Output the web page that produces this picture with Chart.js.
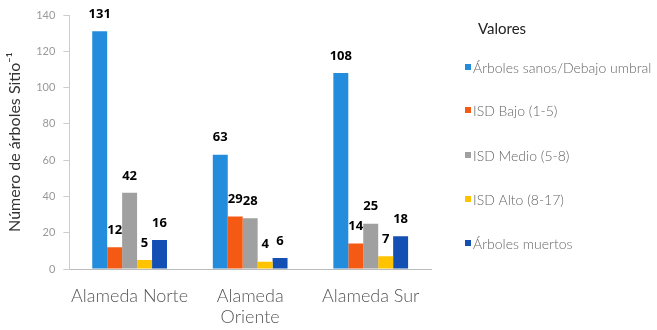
<!DOCTYPE html>
<html><head><meta charset="utf-8">
<script src="https://cdn.jsdelivr.net/npm/chart.js@4"></script>
<style>html,body{margin:0;padding:0;background:#fff;}#wrap{width:657px;height:330px;}</style>
</head><body><div id="wrap"><canvas id="c" width="657" height="330"></canvas></div>
<script>
const categories = [["Alameda Norte"], ["Alameda", "Oriente"], ["Alameda Sur"]];
const seriesNames = ["Árboles sanos/Debajo umbral", "ISD Bajo (1-5)", "ISD Medio (5-8)", "ISD Alto (8-17)", "Árboles muertos"];
const sanos = [131, 63, 108];
const bajo = [12, 29, 14];
const medio = [42, 28, 25];
const alto = [5, 4, 7];
const muertos = [16, 6, 18];
const colors = ["#238CDC", "#F55A14", "#A0A0A0", "#FFC300", "#1450B4"];
const yTicks = [0, 20, 40, 60, 80, 100, 120, 140];
const legendTitle = "Valores";
const yTitle = "Número de árboles Sitio⁻¹";

const values = [sanos, bajo, medio, alto, muertos];

const labelPlugin = {
  id: 'labels',
  afterDatasetsDraw(chart) {
    const ctx = chart.ctx;
    ctx.save();
    ctx.font = "bold 13px 'Open Sans'";
    ctx.fillStyle = "#000";
    ctx.textAlign = "center";
    ctx.textBaseline = "middle";
    chart.data.datasets.forEach((ds, i) => {
      chart.getDatasetMeta(i).data.forEach((bar, j) => {
        ctx.fillText(String(ds.data[j]), bar.x, bar.y - 17);
      });
    });
    ctx.restore();
  }
};

const legendPlugin = {
  id: 'customLegend',
  afterDraw(chart) {
    const ctx = chart.ctx;
    ctx.save();
    ctx.textBaseline = "middle";
    ctx.textAlign = "left";
    ctx.font = "15px Lato";
    ctx.fillStyle = "#222";
    ctx.fillText(legendTitle, 478, 29);
    ctx.font = "300 14px Lato";
    const ys = [68, 111, 156, 200, 244];
    chart.data.datasets.forEach((ds, i) => {
      ctx.fillStyle = ds.backgroundColor;
      ctx.fillRect(465, ys[i] - 4, 6, 6);
      ctx.fillStyle = "#666";
      ctx.fillText(ds.label, 473, ys[i]);
    });
    ctx.restore();
  }
};

new Chart(document.getElementById('c'), {
  type: 'bar',
  data: {
    labels: categories,
    datasets: seriesNames.map((n, i) => ({
      label: n, data: values[i], backgroundColor: colors[i],
      barPercentage: 1, categoryPercentage: 0.62
    }))
  },
  options: {
    responsive: false,
    animation: false,
    layout: { padding: { top: 15, right: 226, left: 5, bottom: 4 } },
    plugins: { legend: { display: false }, tooltip: { enabled: false } },
    scales: {
      x: {
        afterFit(axis) { axis.height = 57; },
        grid: { display: false, drawTicks: false },
        border: { color: "#bbb" },
        ticks: { color: "#555", font: { family: "Lato", size: 18, weight: 300, lineHeight: 1.17 }, padding: 17, maxRotation: 0, autoSkip: false }
      },
      y: {
        min: 0, max: 140,
        afterBuildTicks(axis) { axis.ticks = yTicks.map(v => ({ value: v })); },
        grid: { drawOnChartArea: false, tickLength: 6, color: "#ccc" },
        border: { color: "#ccc" },
        ticks: { color: "#999", font: { family: "Lato", size: 11 }, padding: 8 },
        title: { display: true, text: yTitle, color: "#333", font: { family: "Lato", size: 16 }, padding: { top: 0, bottom: 4 } }
      }
    }
  },
  plugins: [labelPlugin, legendPlugin]
});
</script></body></html>
